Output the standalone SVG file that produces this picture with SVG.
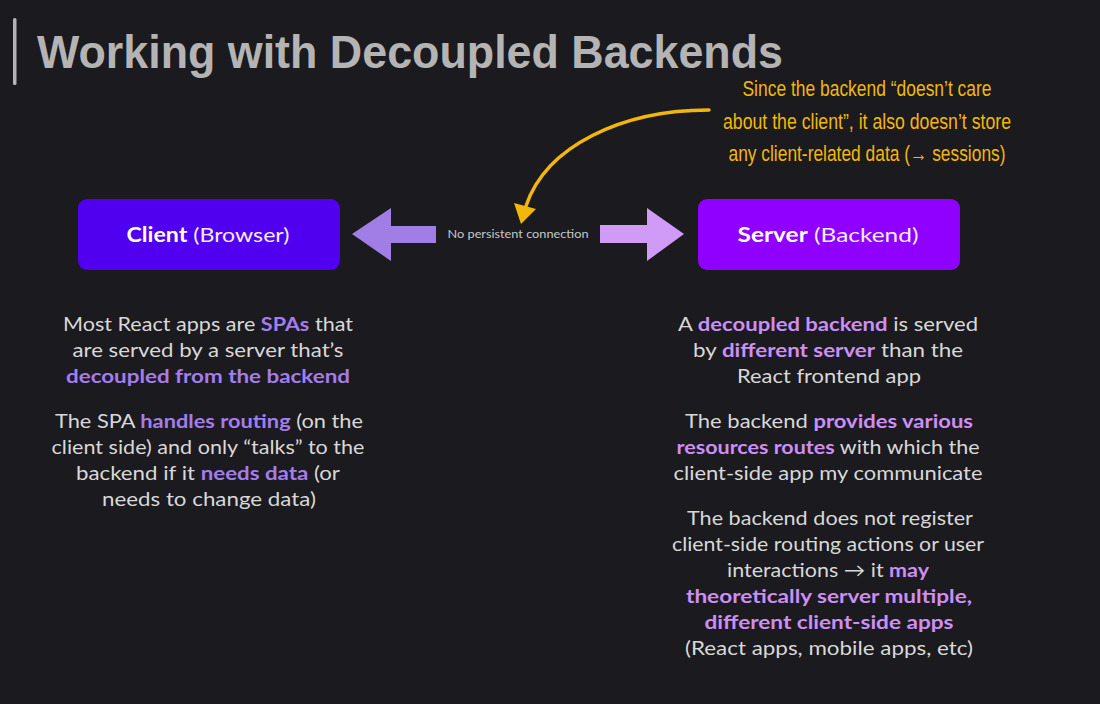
<svg xmlns="http://www.w3.org/2000/svg" width="1100" height="704" viewBox="0 0 1100 704">
  <defs>
    <style>
      .title { font-family: "Liberation Sans", Arial, sans-serif; font-weight: bold; font-size: 47px; fill: #b4b4b4; }
      .body { font-family: Lato, "Noto Sans", sans-serif; font-size: 19px; fill: #d8d8d8; text-anchor: middle; }
      .hl-l { fill: #a47ded; font-weight: bold; }
      .hl-r { fill: #cd8ef5; font-weight: bold; }
      .node-label { font-family: Lato, "Noto Sans", sans-serif; font-size: 20px; fill: #f2ecff; text-anchor: middle; }
      .node-label .strong { font-weight: bold; fill: #ffffff; }
      .note { font-family: "Liberation Sans", Arial, sans-serif; font-size: 22px; fill: #f2b70a; text-anchor: middle; }
      .small { font-family: Lato, "Noto Sans", sans-serif; font-size: 11px; fill: #c8c8c8; text-anchor: middle; }
    </style>
  </defs>

  <rect width="1100" height="704" fill="#1b1a1f"/>

  <!-- heading -->
  <rect x="13" y="18" width="3.5" height="67" rx="1.5" fill="#b4b4b4"/>
  <text class="title" x="37" y="68" textLength="746" lengthAdjust="spacingAndGlyphs">Working with Decoupled Backends</text>

  <!-- side note -->
  <g id="note">
    <text class="note" x="867" y="96" textLength="249" lengthAdjust="spacingAndGlyphs">Since the backend “doesn’t care</text>
    <text class="note" x="867" y="129" textLength="288" lengthAdjust="spacingAndGlyphs">about the client”, it also doesn’t store</text>
    <text class="note" x="867" y="161" textLength="277" lengthAdjust="spacingAndGlyphs">any client-related data (→ sessions)</text>
  </g>

  <!-- nodes -->
  <g id="client">
    <rect x="78" y="199" width="262" height="71" rx="9" fill="#5000ee"/>
    <text class="node-label" x="208" y="242" textLength="163" lengthAdjust="spacingAndGlyphs"><tspan class="strong">Client</tspan> (Browser)</text>
  </g>
  <g id="server">
    <rect x="698" y="199" width="262" height="71" rx="9" fill="#8f00ff"/>
    <text class="node-label" x="828" y="242" textLength="181" lengthAdjust="spacingAndGlyphs"><tspan class="strong">Server</tspan> (Backend)</text>
  </g>

  <!-- connectors -->
  <g id="connectors">
    <polygon points="352,234 391,208 391,226 436,226 436,243 391,243 391,261" fill="#a07ee6"/>
    <polygon points="684,234 647,208 647,225 600,225 600,243 647,243 647,261" fill="#d09af7"/>
    <text class="small" x="518" y="238" textLength="141" lengthAdjust="spacingAndGlyphs">No persistent connection</text>
    <path d="M 709 110 C 622 110, 546 146, 526 206" fill="none" stroke="#f2b70a" stroke-width="3.5" stroke-linecap="round"/>
    <polygon points="514,203 536,209 521,224" fill="#f2b70a"/>
  </g>

  <!-- client description -->
  <g id="client-notes">
    <text class="body" x="208" y="331" textLength="290" lengthAdjust="spacingAndGlyphs">Most React apps are <tspan class="hl-l">SPAs</tspan> that</text>
    <text class="body" x="208" y="357" textLength="271" lengthAdjust="spacingAndGlyphs">are served by a server that’s</text>
    <text class="body" x="208" y="383" textLength="284" lengthAdjust="spacingAndGlyphs"><tspan class="hl-l">decoupled from the backend</tspan></text>
    <text class="body" x="209" y="428" textLength="308" lengthAdjust="spacingAndGlyphs">The SPA <tspan class="hl-l">handles routing</tspan> (on the</text>
    <text class="body" x="208" y="454" textLength="313" lengthAdjust="spacingAndGlyphs">client side) and only “talks” to the</text>
    <text class="body" x="208" y="480" textLength="264" lengthAdjust="spacingAndGlyphs">backend if it <tspan class="hl-l">needs data</tspan> (or</text>
    <text class="body" x="209" y="506" textLength="214" lengthAdjust="spacingAndGlyphs">needs to change data)</text>
  </g>

  <!-- server description -->
  <g id="server-notes">
    <text class="body" x="828" y="331" textLength="300" lengthAdjust="spacingAndGlyphs">A <tspan class="hl-r">decoupled backend</tspan> is served</text>
    <text class="body" x="828" y="357" textLength="270" lengthAdjust="spacingAndGlyphs">by <tspan class="hl-r">different server</tspan> than the</text>
    <text class="body" x="829" y="383" textLength="184" lengthAdjust="spacingAndGlyphs">React frontend app</text>
    <text class="body" x="829" y="428" textLength="288" lengthAdjust="spacingAndGlyphs">The backend <tspan class="hl-r">provides various</tspan></text>
    <text class="body" x="828" y="454" textLength="303" lengthAdjust="spacingAndGlyphs"><tspan class="hl-r">resources routes</tspan> with which the</text>
    <text class="body" x="828" y="480" textLength="309" lengthAdjust="spacingAndGlyphs">client-side app my communicate</text>
    <text class="body" x="830" y="525" textLength="286" lengthAdjust="spacingAndGlyphs">The backend does not register</text>
    <text class="body" x="828" y="551" textLength="312" lengthAdjust="spacingAndGlyphs">client-side routing actions or user</text>
    <text class="body" x="828" y="577" textLength="202" lengthAdjust="spacingAndGlyphs">interactions → it <tspan class="hl-r">may</tspan></text>
    <text class="body" x="829" y="603" textLength="286" lengthAdjust="spacingAndGlyphs"><tspan class="hl-r">theoretically server multiple,</tspan></text>
    <text class="body" x="829" y="629" textLength="249" lengthAdjust="spacingAndGlyphs"><tspan class="hl-r">different client-side apps</tspan></text>
    <text class="body" x="829" y="655" textLength="288" lengthAdjust="spacingAndGlyphs">(React apps, mobile apps, etc)</text>
  </g>
</svg>
